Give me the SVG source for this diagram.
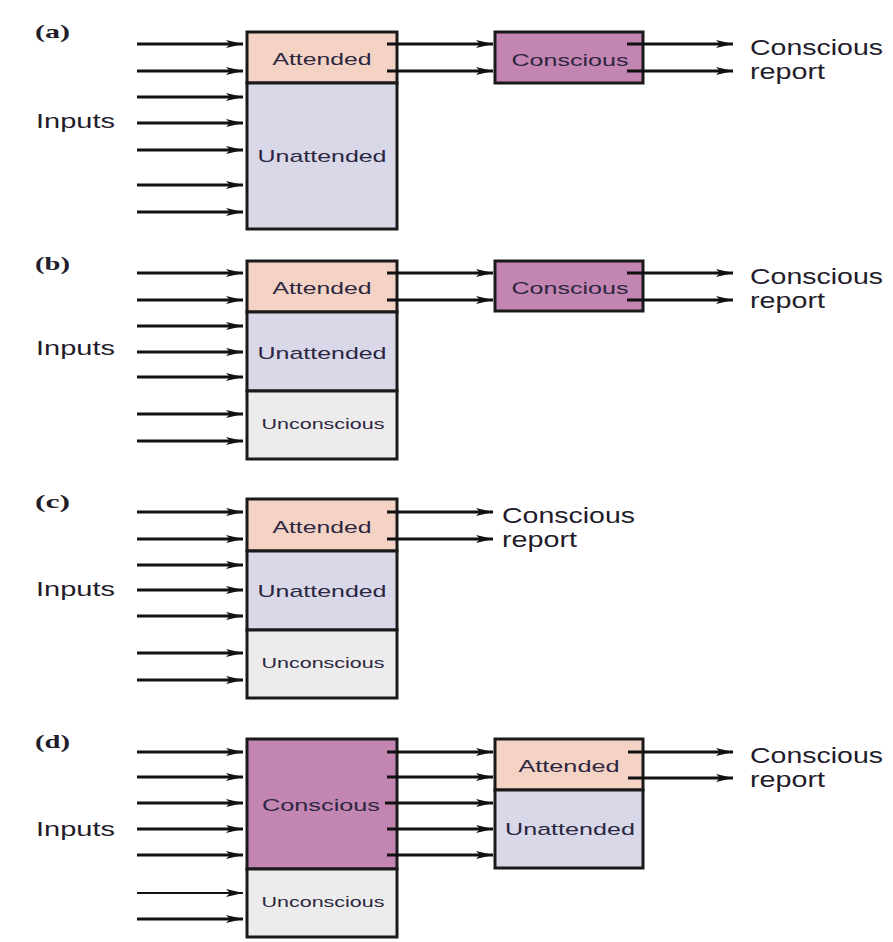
<svg xmlns="http://www.w3.org/2000/svg" width="893" height="942" viewBox="0 0 893 942">
<style>
  .box { stroke: #1a1a1a; stroke-width: 3; }
  .att { fill: #f4d3c5; }
  .una { fill: #d8d8e9; }
  .unc { fill: #ececec; }
  .con { fill: #c385b2; }
  .lbl { font-family: "Liberation Sans", Arial, sans-serif; fill: #2c2640; text-anchor: middle; }
  .big { font-family: "Liberation Sans", Arial, sans-serif; fill: #231c2a; }
  .tag { font-family: "Liberation Serif", "Times New Roman", serif; font-weight: bold; fill: #231c2a; }
  .arr { stroke: #111; stroke-width: 3; fill: none; marker-end: url(#ah); }
  .arrThin { stroke: #111; stroke-width: 2; fill: none; marker-end: url(#ah); }
</style>
<defs>
  <marker id="ah" markerUnits="userSpaceOnUse" markerWidth="18" markerHeight="8" refX="17" refY="4" orient="auto">
    <path d="M0,0 L17,4 L0,8 L4,4 z" fill="#111"/>
  </marker>
</defs>
<rect width="893" height="942" fill="#ffffff"/>

<!-- Panel labels -->
<g id="panel-labels">
  <text class="tag" x="35" y="38" font-size="19" textLength="35" lengthAdjust="spacingAndGlyphs">(a)</text>
  <text class="tag" x="35" y="270" font-size="19" textLength="35" lengthAdjust="spacingAndGlyphs">(b)</text>
  <text class="tag" x="35" y="508" font-size="19" textLength="35" lengthAdjust="spacingAndGlyphs">(c)</text>
  <text class="tag" x="35" y="748" font-size="19" textLength="35" lengthAdjust="spacingAndGlyphs">(d)</text>
  <text class="big" x="36" y="128" font-size="21" textLength="79" lengthAdjust="spacingAndGlyphs">Inputs</text>
  <text class="big" x="36" y="355" font-size="21" textLength="79" lengthAdjust="spacingAndGlyphs">Inputs</text>
  <text class="big" x="36" y="596" font-size="21" textLength="79" lengthAdjust="spacingAndGlyphs">Inputs</text>
  <text class="big" x="36" y="836" font-size="21" textLength="79" lengthAdjust="spacingAndGlyphs">Inputs</text>
</g>

<!-- Panel a nodes -->
<g id="a-attended">
  <rect class="box att" x="247" y="32" width="150" height="51"/>
  <text class="lbl" x="322" y="65" font-size="17" textLength="99" lengthAdjust="spacingAndGlyphs">Attended</text>
</g>
<g id="a-unattended">
  <rect class="box una" x="247" y="83" width="150" height="146"/>
  <text class="lbl" x="322" y="162" font-size="17" textLength="129" lengthAdjust="spacingAndGlyphs">Unattended</text>
</g>
<g id="a-conscious">
  <rect class="box con" x="495" y="32" width="148" height="51"/>
  <text class="lbl" x="570" y="66" font-size="17" textLength="117" lengthAdjust="spacingAndGlyphs">Conscious</text>
</g>
<g id="a-report">
  <text class="big" x="750" y="55" font-size="22" textLength="133" lengthAdjust="spacingAndGlyphs">Conscious</text>
  <text class="big" x="750" y="79" font-size="22" textLength="75" lengthAdjust="spacingAndGlyphs">report</text>
</g>

<!-- Panel b nodes -->
<g id="b-attended">
  <rect class="box att" x="247" y="261" width="150" height="51"/>
  <text class="lbl" x="322" y="294" font-size="17" textLength="99" lengthAdjust="spacingAndGlyphs">Attended</text>
</g>
<g id="b-unattended">
  <rect class="box una" x="247" y="312" width="150" height="79"/>
  <text class="lbl" x="322" y="359" font-size="17" textLength="129" lengthAdjust="spacingAndGlyphs">Unattended</text>
</g>
<g id="b-unconscious">
  <rect class="box unc" x="247" y="391" width="150" height="68"/>
  <text class="lbl" x="323" y="429" font-size="14" textLength="123" lengthAdjust="spacingAndGlyphs">Unconscious</text>
</g>
<g id="b-conscious">
  <rect class="box con" x="495" y="261" width="148" height="50"/>
  <text class="lbl" x="570" y="294" font-size="17" textLength="117" lengthAdjust="spacingAndGlyphs">Conscious</text>
</g>
<g id="b-report">
  <text class="big" x="750" y="284" font-size="22" textLength="133" lengthAdjust="spacingAndGlyphs">Conscious</text>
  <text class="big" x="750" y="308" font-size="22" textLength="75" lengthAdjust="spacingAndGlyphs">report</text>
</g>

<!-- Panel c nodes -->
<g id="c-attended">
  <rect class="box att" x="247" y="499" width="150" height="52"/>
  <text class="lbl" x="322" y="533" font-size="17" textLength="99" lengthAdjust="spacingAndGlyphs">Attended</text>
</g>
<g id="c-unattended">
  <rect class="box una" x="247" y="551" width="150" height="79"/>
  <text class="lbl" x="322" y="597" font-size="17" textLength="129" lengthAdjust="spacingAndGlyphs">Unattended</text>
</g>
<g id="c-unconscious">
  <rect class="box unc" x="247" y="630" width="150" height="68"/>
  <text class="lbl" x="323" y="668" font-size="14" textLength="123" lengthAdjust="spacingAndGlyphs">Unconscious</text>
</g>
<g id="c-report">
  <text class="big" x="502" y="523" font-size="22" textLength="133" lengthAdjust="spacingAndGlyphs">Conscious</text>
  <text class="big" x="502" y="547" font-size="22" textLength="75" lengthAdjust="spacingAndGlyphs">report</text>
</g>

<!-- Panel d nodes -->
<g id="d-conscious">
  <rect class="box con" x="247" y="739" width="150" height="130"/>
  <text class="lbl" x="321" y="811" font-size="17" textLength="118" lengthAdjust="spacingAndGlyphs">Conscious</text>
</g>
<g id="d-unconscious">
  <rect class="box unc" x="247" y="869" width="150" height="68"/>
  <text class="lbl" x="323" y="907" font-size="14" textLength="123" lengthAdjust="spacingAndGlyphs">Unconscious</text>
</g>
<g id="d-attended">
  <rect class="box att" x="495" y="739" width="148" height="51"/>
  <text class="lbl" x="569" y="772" font-size="17" textLength="101" lengthAdjust="spacingAndGlyphs">Attended</text>
</g>
<g id="d-unattended">
  <rect class="box una" x="495" y="790" width="148" height="78"/>
  <text class="lbl" x="570" y="835" font-size="17" textLength="130" lengthAdjust="spacingAndGlyphs">Unattended</text>
</g>
<g id="d-report">
  <text class="big" x="750" y="763" font-size="22" textLength="133" lengthAdjust="spacingAndGlyphs">Conscious</text>
  <text class="big" x="750" y="787" font-size="22" textLength="75" lengthAdjust="spacingAndGlyphs">report</text>
</g>

<!-- Connectors -->
<g id="connectors">
  <!-- a inputs -->
  <line class="arr" x1="137" y1="44" x2="243" y2="44"/>
  <line class="arr" x1="137" y1="71" x2="243" y2="71"/>
  <line class="arr" x1="137" y1="97" x2="243" y2="97"/>
  <line class="arr" x1="137" y1="123" x2="243" y2="123"/>
  <line class="arr" x1="137" y1="150" x2="243" y2="150"/>
  <line class="arr" x1="137" y1="185" x2="243" y2="185"/>
  <line class="arr" x1="137" y1="212" x2="243" y2="212"/>
  <line class="arr" x1="387" y1="44" x2="493" y2="44"/>
  <line class="arr" x1="387" y1="71" x2="493" y2="71"/>
  <line class="arr" x1="627" y1="44" x2="733" y2="44"/>
  <line class="arr" x1="627" y1="71" x2="733" y2="71"/>
  <!-- b -->
  <line class="arr" x1="137" y1="273" x2="243" y2="273"/>
  <line class="arr" x1="137" y1="300" x2="243" y2="300"/>
  <line class="arr" x1="137" y1="326" x2="243" y2="326"/>
  <line class="arr" x1="137" y1="352" x2="243" y2="352"/>
  <line class="arr" x1="137" y1="377" x2="243" y2="377"/>
  <line class="arr" x1="137" y1="414" x2="243" y2="414"/>
  <line class="arr" x1="137" y1="441" x2="243" y2="441"/>
  <line class="arr" x1="387" y1="273" x2="493" y2="273"/>
  <line class="arr" x1="387" y1="300" x2="493" y2="300"/>
  <line class="arr" x1="627" y1="273" x2="733" y2="273"/>
  <line class="arr" x1="627" y1="300" x2="733" y2="300"/>
  <!-- c -->
  <line class="arr" x1="137" y1="512" x2="243" y2="512"/>
  <line class="arr" x1="137" y1="539" x2="243" y2="539"/>
  <line class="arr" x1="137" y1="565" x2="243" y2="565"/>
  <line class="arr" x1="137" y1="590" x2="243" y2="590"/>
  <line class="arr" x1="137" y1="616" x2="243" y2="616"/>
  <line class="arr" x1="137" y1="653" x2="243" y2="653"/>
  <line class="arr" x1="137" y1="680" x2="243" y2="680"/>
  <line class="arr" x1="387" y1="512" x2="493" y2="512"/>
  <line class="arr" x1="387" y1="539" x2="493" y2="539"/>
  <!-- d -->
  <line class="arr" x1="137" y1="752" x2="243" y2="752"/>
  <line class="arr" x1="137" y1="777" x2="243" y2="777"/>
  <line class="arr" x1="137" y1="803" x2="243" y2="803"/>
  <line class="arr" x1="137" y1="829" x2="243" y2="829"/>
  <line class="arr" x1="137" y1="855" x2="243" y2="855"/>
  <line class="arrThin" x1="137" y1="893" x2="243" y2="893"/>
  <line class="arr" x1="137" y1="919" x2="243" y2="919"/>
  <line class="arr" x1="387" y1="752" x2="493" y2="752"/>
  <line class="arr" x1="387" y1="777" x2="493" y2="777"/>
  <line class="arr" x1="385" y1="803" x2="493" y2="803"/>
  <line class="arr" x1="387" y1="829" x2="493" y2="829"/>
  <line class="arr" x1="387" y1="855" x2="493" y2="855"/>
  <line class="arr" x1="628" y1="752" x2="733" y2="752"/>
  <line class="arr" x1="628" y1="778" x2="733" y2="778"/>
</g>
</svg>
